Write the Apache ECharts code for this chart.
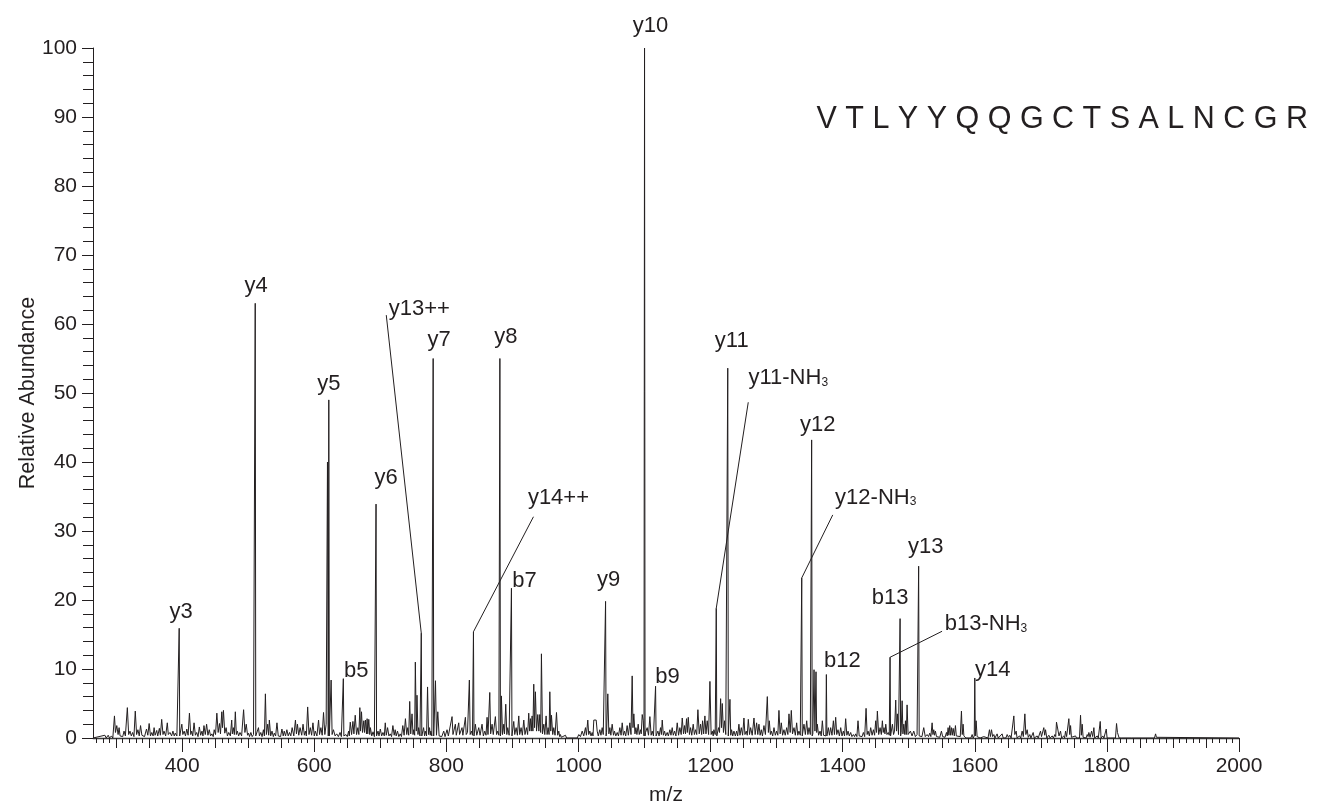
<!DOCTYPE html>
<html>
<head>
<meta charset="utf-8">
<script src="https://cdn.jsdelivr.net/npm/echarts@6/dist/echarts.min.js"></script>
<style>
html,body{margin:0;padding:0;background:#fff;}
#chart{width:1318px;height:808px;}
</style>
</head>
<body>
<div id="chart"></div>
<script>
// ---------- DATA ----------
const sequence = 'V T L Y Y Q Q G C T S A L N C G R';
const xTickLabels = [400, 600, 800, 1000, 1200, 1400, 1600, 1800, 2000];
const yTickLabels = [0, 10, 20, 30, 40, 50, 60, 70, 80, 90, 100];

// labelled fragment ions
const ionNames = ['y3','y4','y5','b5','y6','y13++','y7','y14++','y8','b7','y9','y10','b9',
                  'y11-NH3','y11','y12-NH3','y12','b12','b13-NH3','b13','y13','y14'];
const ionMz    = [395.5,510.6,622,644,693.5,762,780,841,881,898.5,1041,1100,1116.7,
                  1208.6,1226,1338,1353,1375.3,1471.7,1486.9,1515,1600];
const ionAbund = [15.9,63.0,49.0,8.6,33.9,15.2,55.0,15.4,55.0,21.7,19.8,100,7.5,
                  18.8,53.6,23.2,43.2,9.2,11.7,17.3,24.9,8.7];

// unlabelled spectrum points (m/z, relative abundance)
const noiseLow = [[265,0],[283,0.4],[285,0],[288,0.4],[290,0],[293,0.3],[295,0],
[297.5,3.2],[299,0.8],[301,1.8],[303,0.5],[304.5,1.5],[306,0.3],[308.5,0.5],[310,0.2],[312,1],[314,0.3],[317,4.4],[319,0.5],[321,1],[323,0.3],[325,0.8],[327,0.2],[329,3.9],[331,0.5],[333,1.2],[335,0.3],[337,1.8],[339,0.4],[341,0.5],[343,0.2],[346,1.3],[348,0.4],[350,2.1],[352,0.3],[354,0.8],[356,0.3],[357.5,1.5],[359,0.4],[361.5,1.1],[363,0.3],[365.5,1.4],[367,0.4],[369,2.7],[371,0.5],[372.5,1],[375,0.3],[377.5,2.2],[379,0.5],[381.5,0.8],[384,0.3],[386,1],[388,0.3],[389.5,0.7],[392,0.3],
[399.5,2],[401,0.5],[403,1],[405,0.3],[407,1.3],[409,0.4],[411,3.6],[413,0.5],[414.5,1],[416,0.3],[418,2.2],[420,0.4],[422,0.8],[424,0.2],[426,1.6],[428,0.4],[430,1],[431.5,0.3],[433,1.8],[435,0.5],[437,2],[439,0.4],[441,1.2],[443,0.3],[445,0.6],[447,0.2],[448.5,1.2],[450.5,0.5],[452.5,3.6],[454.5,0.8],[456.5,2.1],[458,0.6],[460,3.8],[461,1.5],[462.5,4],[464.5,0.7],[466.5,1.5],[468.5,0.3],[470.5,0.8],[473,0.3],[475,2.6],[476,0.6],[477.5,1.5],[479,0.5],[480.5,3.8],[482,0.5],[483.5,1],[485.5,0.3],[487.5,0.8],[490,0.3],[493,4.1],[495,0.8],[497,2],[499,0.4],[500.5,0.7],[502,0.2],[504,0.8],[506,0.2],[508,0.5],
[513,0.4],[515.5,1.5],[517,0.3],[519,0.8],[521,0.2],[523,1.2],[524.5,0.3],[526,6.4],[527.5,0.5],[529.5,2],[531,0.4],[532,2.6],[534,0.3],[536,1],[538,0.2],[539.5,0.7],[541.5,0.3],[543.5,2.2],[545.5,0.3],[547.5,0.5],[549,0.2],[551,1.3],[553,0.3],[554.5,1],[556.5,0.3],[558.5,1.2],[560.5,0.3],[562.5,0.8],[564.5,0.3],[566.5,1.5],[569,0.3],[571.5,2.6],[573,0.6],[574.5,2],[576.5,0.4],[578.5,1.5],[581,0.4],[583,2],[585,0.4],[586.5,1],[588,0.3],[590,4.5],[592,0.5],[594,1.5],[596,0.4],[598,2.2],[600,0.3],[601.5,1],[604,0.3],[606.5,2.6],[608,0.5],[610,1.5],[612,0.4],[614,3.7],[616,0.5],[618,2],[620,40],[623.5,0.5],[625.5,8.4],[627,0.5],[629,1.2],[631.5,0.3],[634,0.6],[636.5,0.2],[639,0.8],[641,0.2],
[646,0.2],[648,0.5],[650,0.2],[652,1],[653,0.3],[654.5,2.3],[656.5,0.5],[658.5,2.4],[660,0.6],[662,3.3],[664,0.5],[666,1.5],[667.5,0.5],[669,4.4],[670,1],[671.5,3.8],[673,0.8],[675,2.5],[676,0.8],[677.5,2.6],[679,0.6],[680,2.8],[681,0.6],[682.5,2.7],[684,0.5],[685,1.5],[687,0.3],[689,0.9],[691,0.2],
[696.5,1],[698,0.3],[700,1.3],[702,0.3],[704,0.8],[706,0.3],[707.5,2.2],[709,0.4],[711,1.5],[713,0.3],[715,0.6],[717,0.2],[719,1.8],[721,0.4],[722.5,1.2],[724,0.3],[726,1],[728,0.2],[730,0.6],[732,0.2],[734,1.8],[736,0.4],[738,2.8],[740,0.5],[741.5,1.5],[743,0.4],[744.5,5.3],[746,0.6],[748,3.5],[749.5,0.5],[750.5,1.2],[752,0.4],[753,11],[754.5,1],[755.5,6.2],[757,0.5],[758,1.5],[760,0.3],
[764,0.4],[765.5,1.5],[767,0.3],[768,1],[770,0.3],[771.5,7.4],[773,0.5],[774.5,1.5],[775.5,0.4],[776.5,1],[778,0.3],
[782,0.4],[783.5,8.3],[785,0.4],[787,3.8],[789,0.3],[791,0.5],[793,0.2],[796,1],[798,0.2],[801,1.2],[803,0.3]];

const noiseMid = [[805,0.5],[808.6,3.1],[810,0.5],[813.6,2],[815,0.4],[818.7,2.2],[820,0.5],[823.7,1.5],[825,0.4],[828.8,3],[830,0.5],[832,0.8],[834.8,8.4],[836,0.5],[838,1],[839.5,0.4],
[842.5,0.5],[843.9,2],[846,0.4],[849,1.5],[851,0.4],[854,2],[856,0.3],[858.1,1],[860,0.4],[861.6,3],[863,0.5],[865.7,6.6],[867,0.6],[869.2,2],[871,0.5],[874.2,3.1],[876,0.5],[877.8,1],[879.5,0.4],
[882.5,0.8],[883.3,6.1],[885,0.5],[886.9,2],[888,0.6],[889.9,4.9],[891.5,0.5],[892.9,1.5],[895,0.4],[897,0.5],
[900,0.5],[902,2.4],[903.5,0.5],[905.6,1.5],[907.5,0.4],[909.6,3.2],[911,0.5],[913.1,1.5],[915,0.4],[917.2,2.6],[919,0.5],[921.2,1.5],[923,0.5],[924.7,3.6],[926,1],[927.3,2.8],[928.5,1],[929.8,3.2],[931,1],[932.3,7.8],[933.5,1.5],[934.8,6.7],[936.5,1],[938.4,3.4],[940,1],[941.4,3.4],[942.8,0.8],[943.9,12.2],[945.5,0.6],[947.5,2],[949,0.5],[951,3.2],[952.5,0.5],[954,1.5],[955.5,0.5],[956.6,6.7],[958,1],[959.1,3.3],[961,0.5],[962.6,1.5],[964.5,0.4],[966.7,3.7],[968.5,0.4],[970.2,1],[971.5,0.2],[972.7,0.5],[974,0.1],[975.3,0.3],[977,0],[980.3,0.4],[982,0],[998,0],
[1000.5,0.5],[1003,0.2],[1005.6,1],[1008,0.3],[1010.6,1.5],[1012,0.4],[1014.1,2.6],[1015.5,0.5],[1017.2,1],[1019,0.3],[1020.7,0.8],[1022,0.3],[1023.2,2.6],[1026.8,2.6],[1028.3,1],[1030,0.3],[1032.3,1.2],[1034,0.4],[1035.9,1.5],[1037.5,0.5],[1039.5,0.6],
[1042.5,0.8],[1044.4,6.4],[1046,0.6],[1047.5,1.5],[1049,0.4],[1051,2],[1053,0.4],[1054.5,1],[1056.5,0.3],[1058.6,0.8],[1060.5,0.3],[1062.6,1.5],[1064.5,0.4],[1066.2,2.2],[1068,0.4],[1069.7,1],[1071.5,0.3],[1073.7,1.8],[1075.5,0.4],[1077.8,2.2],[1079.5,0.5],[1081.3,9],[1082.5,1.5],[1083.8,3.5],[1085.5,0.6],[1086.9,1.5],[1088.5,0.5],[1090.4,2],[1092,0.5],[1093.9,1.2],[1095,0.6],[1096.5,3.4],[1098,2.5],
[1101.5,0.8],[1104,1.5],[1106,0.4],[1108.1,3.1],[1110,0.4],[1111.6,1],[1113.5,0.3],[1115.2,0.3],[1118.5,0.3],[1120.2,1],[1122,0.3],[1124.2,1.5],[1125.5,0.5],[1126.8,2.6],[1128.5,0.4],[1130.3,1],[1132,0.3],[1134.3,0.8],[1136,0.3],[1138.4,1.2],[1140,0.4],[1141.9,1.5],[1143.5,0.4],[1145.5,1],[1147.5,0.3],[1149.5,2.2],[1151.5,0.4],[1153.5,1.5],[1155.5,0.5],[1157.1,2.9],[1159,0.6],[1160.6,1.8],[1162,0.6],[1163.6,2.8],[1164.8,0.8],[1166.2,3],[1168,0.5],[1169.7,1.5],[1171.5,0.4],[1173.7,2],[1175.5,0.5],[1177.3,1.2],[1179,0.5],[1180.8,4.1],[1182.8,0.6],[1184.8,2],[1186.5,0.5],[1187.9,2.5],[1189.5,0.6],[1191.4,3.2],[1193,0.6],[1194.9,2.5],[1197,0.5],[1199,8.2],[1200.8,0.5],[1202.5,1],[1204,0.3],[1205,1.2],[1207,0.5],
[1210.5,0.5],[1212.1,1.5],[1213.5,0.8],[1215.2,5.7],[1216.5,1.5],[1217.7,5],[1219.5,0.8],[1221.2,2.5],[1223,0.5],[1224.5,0.4],
[1227.5,0.5],[1229.3,5.6],[1230.5,0.4],[1231.8,1.2],[1233.5,0.3],[1235.4,1],[1237.5,0.3],[1239.4,1],[1241,0.3],[1242.9,2],[1244.5,0.4],[1246.5,1.5],[1248.5,0.4],[1250.5,2.9],[1252,0.5],[1254,1],[1255.5,0.4],[1257.1,2.7],[1259,0.5],[1260.6,1.5],[1263,0.4],[1265.7,2.9],[1267.5,0.5],[1269.7,2.2],[1271.5,0.5],[1273.2,2],[1275,0.4],[1276.8,1.2],[1278.5,0.3],[1280.8,1.8],[1283,0.5],[1285.9,6],[1287.5,0.8],[1288.9,2.5],[1290.5,0.5],[1291.9,1],[1294,0.3],[1296,1.5],[1298,0.4],[1300,1],[1301.8,0.4],[1303.5,4],[1305.3,0.6],[1307.1,2.2],[1309,0.4],[1311.1,1.2],[1313,0.4],[1315.2,1.5],[1317,0.5],[1318.7,3.5],[1320.5,0.8],[1322.2,4],[1324,0.6],[1326.3,1.5],[1328.3,0.4],[1330.3,2.2],[1332,0.4],[1333.8,1],[1335.8,0.4],
[1339.5,0.5],[1341.4,2],[1343.5,0.5],[1345.5,2.5],[1347.3,0.5],[1349,1.5],[1351,0.5],
[1354.8,0.6],[1356.6,9.9],[1358,1],[1359.6,9.6],[1360.6,0.8],[1361.6,2],[1363.5,0.4],[1365.7,1],[1367.5,0.3],[1369.2,2.5],[1371,0.4],[1373,0.5],
[1376.8,0.5],[1378.3,1.5],[1380,0.4],[1381.8,1.5],[1383.8,0.4],[1385.9,2.5],[1387.5,0.5],[1389.4,3],[1391,0.5],[1392.9,1.2],[1395,0.3],[1397,1.5],[1399,0.3],[1401,1],[1402.8,0.3],[1404.5,2.8],[1406.3,0.4],[1408.1,1],[1410,0.3],[1412.1,0.8],[1414,0.2],[1416.2,0.5],[1418,0.2],[1419.7,0.6],[1421.5,0.2],[1423.2,2.5],[1425,0.3],[1427.3,0.5],[1429.3,0.2],[1431.3,0.8],[1433.3,0.2],[1435.4,4.3],[1437,0.5],[1438.4,1],[1440.4,0.3],[1442.4,1.5],[1444.5,0.4],[1446.5,1.2],[1448.3,0.4],[1450,2.5],[1451.3,0.8],[1452.5,3.9],[1454.5,0.5],[1456.6,1.5],[1458.5,0.5],[1460.1,2.5],[1461.4,0.8],[1462.6,1.5],[1464,0.6],[1465.2,2],[1467,0.5],[1469,0.8],[1470.5,0.4],
[1473.5,0.5],[1475.3,2],[1477,0.5],[1478.5,1],[1480.3,5.5],[1481.5,1],[1482.8,3.5],[1484.5,0.5]];

const noiseHigh = [[1488.5,0.8],[1490,5.4],[1491.2,0.6],[1492.5,2],[1494,0.5],[1495,2.5],[1496.3,0.5],[1497.5,4.8],[1499,0.5],[1502.5,1],[1505,0.3],[1507.6,1],[1510,0.2],[1512.6,0.5],[1513.8,0.3],
[1516.3,0.3],[1517.7,0.5],[1520,0.2],[1522.7,1.5],[1525,0.2],[1527.8,0.5],[1530,0.2],[1531.8,0.7],[1533.5,0.2],[1535.4,2.2],[1536.6,0.5],[1537.9,1.2],[1539,0.4],[1540.4,1],[1542,0.2],[1544.4,0.4],[1547,0.1],[1549.5,1],[1551.3,0.2],[1553,0.3],[1555,0.1],[1557.1,0.8],[1558.3,0.3],[1559.6,1.5],[1560.8,0.4],[1562.1,1.8],[1563.3,0.4],[1564.6,1.5],[1565.9,0.4],[1567.2,1.4],[1569,0.3],[1570.7,1.8],[1572,0.3],[1573.2,0.5],[1575,0.1],[1578,0.2],[1579.8,3.9],[1581,0.5],[1582.3,2],[1583.5,0.3],[1584.8,0.3],[1586.5,0],[1588.4,0.2],[1590,0],[1594,0],[1596,0.5],[1597.5,0],
[1601,0.5],[1602,2.5],[1603.5,0.2],[1606.1,0.3],[1608,0],[1613.6,0.2],[1616,0],[1620,0],[1622.2,1.2],[1623.6,0.2],[1625.3,1.2],[1627,0.2],[1628.8,0.5],[1630.5,0],[1633.8,0.6],[1635.5,0],[1641.4,0.6],[1643,0],[1647,0],[1649,0.5],[1651,0.1],[1653,0.4],[1655,0],[1657.5,0.2],[1659.1,3.2],[1660.6,0.5],[1662.6,1],[1664,0],[1667.7,0.3],[1669.5,0],[1671.7,1],[1673.5,0.2],[1675.8,3.5],[1677.3,0.5],[1679.3,1.2],[1681,0.1],[1683.3,0.5],[1685,0],[1688.4,0.8],[1690,0],[1694.4,0.3],[1696,0],[1699.5,1],[1701,0.2],[1704.5,1.5],[1705.8,0.4],[1707.1,1.2],[1709,0],[1712.1,0.4],[1714,0],[1717.2,0.3],[1719,0],[1721.2,0.5],[1722.5,0.2],[1723.7,2.3],[1726.3,2.3],[1727.5,0.3],[1729.8,1],[1731.5,0],[1734.8,0.3],[1736,0],[1737.4,1],[1739,0.2],[1742.4,2.8],[1743.7,0.5],[1745,1.8],[1746.3,0.1],[1747.5,0.3],[1749,0],[1752.5,0.3],[1754,0],[1758.5,0],[1760.1,3.3],[1761.3,0.4],[1762.6,2],[1764,0.1],[1766.7,0.3],[1768.5,0],[1770.2,0.5],[1771.5,0.2],[1772.7,0.8],[1774.5,0.1],[1776.8,1],[1778.5,0.2],[1780.3,1.5],[1781.5,0],[1785.4,0.3],[1787,0],[1789.9,2.4],[1791.2,0],[1793.9,0.3],[1795.5,0],[1799,1.3],[1800.3,0],[1803,0.2],[1805,0],[1813,0],[1814.6,2.1],[1816,0.8],[1817.2,1],[1818.5,0],[1820.7,0.2],[1822.5,0],[1837,0],[1838.4,0.2],[1840,0],[1872,0],[1873.7,0.6],[1875,0.1],[1876.3,0.1],[1878,0],[2000,0]];

// ---------- LAYOUT (pixel offsets of annotation text / leader ends from each peak top) ----------
const labelOffsets = [[2,-16],[1,-17],[0,-16],[13,-8],[10,-26],[-2,-324],[6,-19],[85,-134],[6,-22],[13,-7],[3,-21],[6,-22],[12,-9],
                      [72,-230],[4,-27],[74,-80],[6,-15],[16,-14],[96,-33],[-10,-21],[7,-19],[18,-8]];
const leaderOffsets = [null,null,null,null,null,[-35,-318],null,[60,-115],null,null,null,null,null,
                       [32,-206],null,[31,-63],null,null,[52,-26],null,null,null];

// ---------- BUILD ----------
const FONT = '"Liberation Sans", Arial, Helvetica, sans-serif';
const INK = '#231f20';
const profile = [].concat(noiseLow, noiseMid, noiseHigh);
ionMz.forEach((m, i) => {
  profile.push([m - 0.8, 0.3], [m, ionAbund[i]], [m + 0.8, 0.3]);
});
profile.sort((a, b) => a[0] - b[0]);

const mediumTicks = [], minorTicks = [];
for (let v = 300; v < 2000; v += 50) if (xTickLabels.indexOf(v) < 0) mediumTicks.push(v);
for (let v = 270; v < 2000; v += 10) if (v % 50 !== 0) minorTicks.push(v);

function richText(name) {
  const k = name.indexOf('NH3');
  if (k >= 0) return '{a|' + name.slice(0, k) + 'NH}{s|3}';
  return '{a|' + name + '}';
}

const chart = echarts.init(document.getElementById('chart'), null, {renderer: 'canvas'});
const baseX = {type: 'value', min: 265, max: 2000, position: 'bottom', gridIndex: 0,
  splitLine: {show: false}, axisLine: {show: false, onZero: false}};
chart.setOption({
  animation: false,
  backgroundColor: '#ffffff',
  title: {text: sequence, right: 5, top: 99,
    textStyle: {fontFamily: FONT, fontSize: 30.5, fontWeight: 'normal', color: INK}},
  grid: {left: 93, right: 79, top: 48, bottom: 70, containLabel: false, outerBoundsMode: 'none'},
  xAxis: [
    Object.assign({}, baseX, {
      axisLine: {show: true, onZero: false, lineStyle: {color: '#3a3a3a', width: 1.3}},
      axisTick: {show: true, inside: false, length: 14, customValues: xTickLabels, lineStyle: {color: INK}},
      axisLabel: {show: true, customValues: xTickLabels, margin: 18, fontFamily: FONT, fontSize: 21, color: INK,
        formatter: function (v) { return String(v); }},
      name: 'm/z', nameLocation: 'middle', nameGap: 47, nameMoveOverlap: false,
      nameTextStyle: {fontFamily: FONT, fontSize: 21, color: INK}
    }),
    Object.assign({}, baseX, {
      axisTick: {show: true, inside: false, length: 10, customValues: mediumTicks, lineStyle: {color: INK}},
      axisLabel: {show: false}
    }),
    Object.assign({}, baseX, {
      axisTick: {show: true, inside: false, length: 5, customValues: minorTicks, lineStyle: {color: INK}},
      axisLabel: {show: false}
    })
  ],
  yAxis: {
    type: 'value', min: 0, max: 100, interval: 10,
    axisLine: {show: true, onZero: false, lineStyle: {color: INK, width: 1}},
    axisTick: {show: true, inside: false, length: 11, lineStyle: {color: INK}},
    minorTick: {show: true, splitNumber: 5, length: 10, lineStyle: {color: INK}},
    axisLabel: {margin: 16, fontFamily: FONT, fontSize: 21, color: INK,
      customValues: yTickLabels, formatter: function (v) { return String(v); }},
    splitLine: {show: false},
    name: 'Relative Abundance', nameLocation: 'middle', nameGap: 54, nameMoveOverlap: false,
    nameTextStyle: {fontFamily: FONT, fontSize: 21.5, color: INK}
  },
  series: [
    {
      type: 'line', xAxisIndex: 0, yAxisIndex: 0, data: profile,
      symbol: 'none', silent: true, clip: false,
      lineStyle: {color: INK, width: 1}
    },
    {
      type: 'custom', xAxisIndex: 0, yAxisIndex: 0, silent: true, clip: false,
      data: ionMz.map((m, i) => [m, ionAbund[i]]),
      renderItem: function (params, api) {
        const i = params.dataIndex;
        const p = api.coord([api.value(0), api.value(1)]);
        const children = [];
        const ld = leaderOffsets[i];
        if (ld) {
          children.push({type: 'line',
            shape: {x1: p[0], y1: p[1], x2: p[0] + ld[0], y2: p[1] + ld[1]},
            style: {stroke: INK, lineWidth: 1}});
        }
        const off = labelOffsets[i];
        children.push({type: 'text', x: p[0] + off[0], y: p[1] + off[1],
          style: {text: richText(ionNames[i]), align: 'center', verticalAlign: 'middle',
            rich: {
              a: {fontFamily: FONT, fontSize: 22, fill: INK, color: INK, lineHeight: 22},
              s: {fontFamily: FONT, fontSize: 12, fill: INK, color: INK, lineHeight: 22, padding: [8, 0, 0, 0]}
            }}});
        return {type: 'group', children: children};
      }
    }
  ]
});
</script>
</body>
</html>
